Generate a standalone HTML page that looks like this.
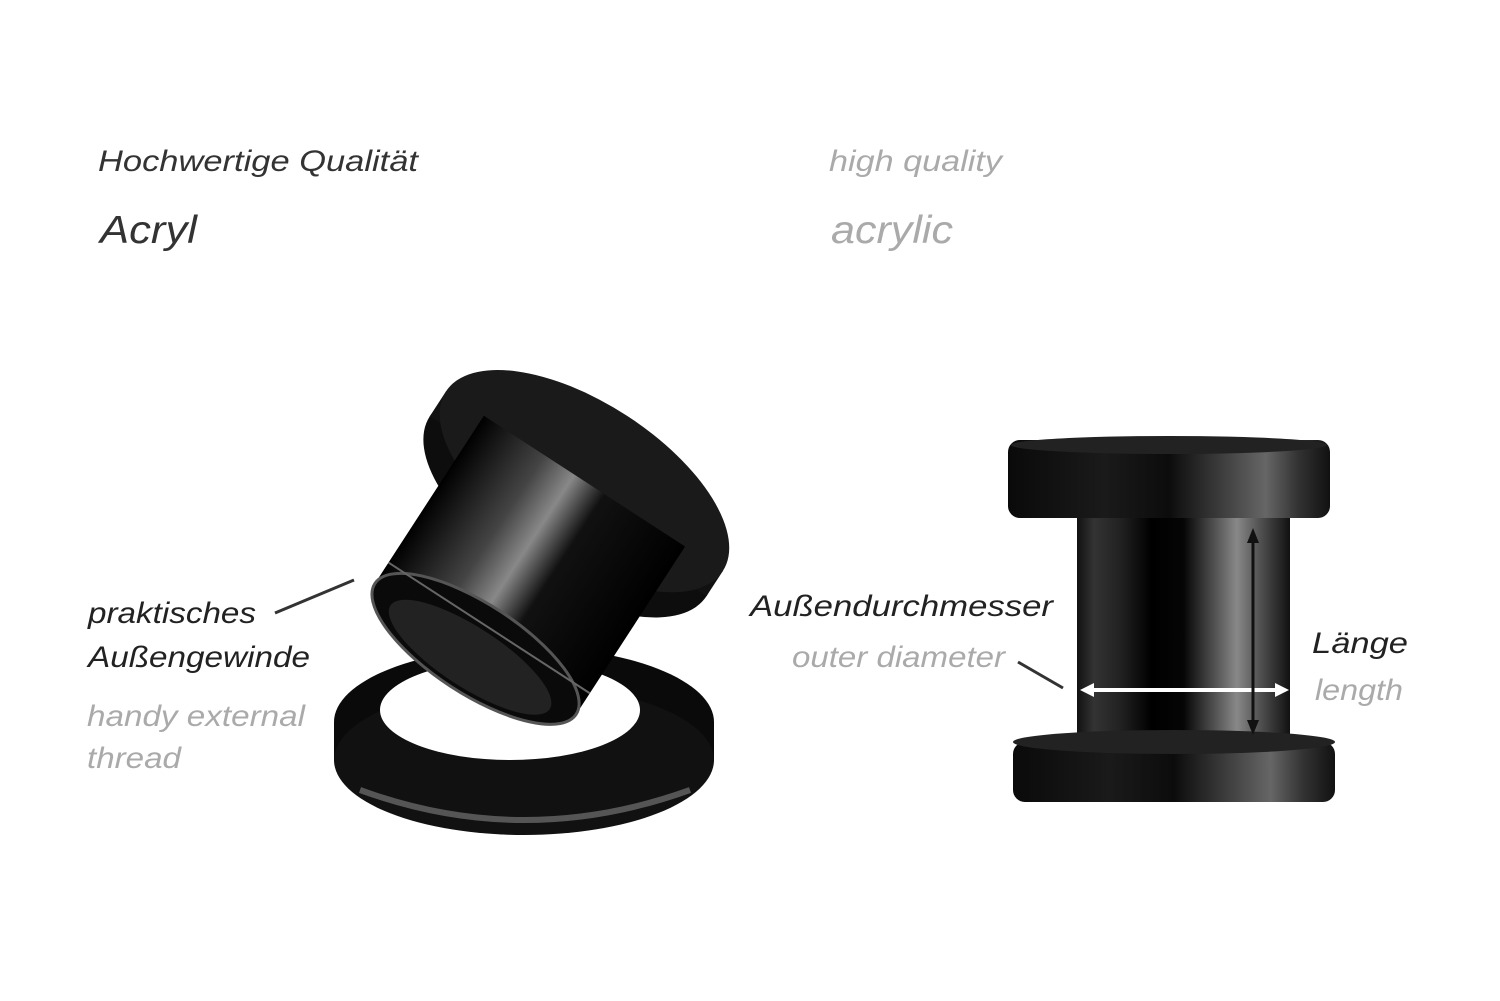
<!DOCTYPE html>
<html><head><meta charset="utf-8"><style>
html,body{margin:0;padding:0;background:#fff;}
svg{display:block}
text{font-family:"Liberation Sans",sans-serif;font-style:italic;}
</style></head><body>
<svg width="1500" height="1001" viewBox="0 0 1500 1001" xmlns="http://www.w3.org/2000/svg">
<defs>
<linearGradient id="cyl" x1="0" x2="1" y1="0" y2="0">
<stop offset="0" stop-color="#111"/><stop offset="0.08" stop-color="#333"/><stop offset="0.2" stop-color="#222"/><stop offset="0.35" stop-color="#000"/><stop offset="0.5" stop-color="#050505"/><stop offset="0.75" stop-color="#888"/><stop offset="0.85" stop-color="#555"/><stop offset="1" stop-color="#111"/>
</linearGradient>
<linearGradient id="fl" x1="0" x2="1" y1="0" y2="0">
<stop offset="0" stop-color="#0a0a0a"/><stop offset="0.3" stop-color="#1a1a1a"/><stop offset="0.5" stop-color="#0c0c0c"/><stop offset="0.8" stop-color="#666"/><stop offset="0.9" stop-color="#333"/><stop offset="1" stop-color="#111"/>
</linearGradient>
<linearGradient id="tube" x1="0" x2="1" y1="0" y2="0">
<stop offset="0" stop-color="#000"/><stop offset="0.3" stop-color="#444"/><stop offset="0.45" stop-color="#888"/><stop offset="0.6" stop-color="#111"/><stop offset="1" stop-color="#000"/>
</linearGradient>
</defs>

<text x="98" y="171" font-size="30" fill="#333" textLength="320" lengthAdjust="spacingAndGlyphs">Hochwertige Qualität</text>
<text x="100" y="243" font-size="39" fill="#333" textLength="97" lengthAdjust="spacingAndGlyphs">Acryl</text>
<text x="829" y="171" font-size="30" fill="#aaa" textLength="173" lengthAdjust="spacingAndGlyphs">high quality</text>
<text x="831" y="243" font-size="39" fill="#aaa" textLength="122" lengthAdjust="spacingAndGlyphs">acrylic</text>

<!-- left object -->
<g>
<ellipse cx="524" cy="722" rx="190" ry="75" fill="#0a0a0a"/>
<rect x="334" y="722" width="380" height="38" fill="#0a0a0a"/>
<ellipse cx="524" cy="760" rx="190" ry="75" fill="#111"/>
<path d="M360 790 Q524 850 690 790" stroke="#555" stroke-width="6" fill="none"/>
<ellipse cx="510" cy="710" rx="130" ry="50" fill="#fff"/>
<g transform="translate(530 565) rotate(33) translate(-560 -520)">
<ellipse cx="560" cy="450" rx="165" ry="78" fill="#0d0d0d"/>
<rect x="395" y="420" width="330" height="30" fill="#111"/>
<ellipse cx="560" cy="420" rx="165" ry="78" fill="#1a1a1a"/>
<rect x="440" y="420" width="240" height="200" fill="url(#tube)"/>
<ellipse cx="560" cy="620" rx="120" ry="45" fill="#0a0a0a" stroke="#555" stroke-width="3"/>
<line x1="440" y1="595" x2="680" y2="595" stroke="#666" stroke-width="2"/>
<ellipse cx="560" cy="630" rx="95" ry="30" fill="#222"/>
</g>
</g>
<line x1="275" y1="613" x2="354" y2="580" stroke="#333" stroke-width="3"/>
<text x="88" y="623" font-size="30" fill="#222" textLength="168" lengthAdjust="spacingAndGlyphs">praktisches</text>
<text x="88" y="667" font-size="30" fill="#222" textLength="222" lengthAdjust="spacingAndGlyphs">Außengewinde</text>
<text x="87" y="726" font-size="30" fill="#aaa" textLength="218" lengthAdjust="spacingAndGlyphs">handy external</text>
<text x="87" y="768" font-size="30" fill="#aaa" textLength="94" lengthAdjust="spacingAndGlyphs">thread</text>

<!-- right object -->
<rect x="1077" y="505" width="213" height="240" fill="url(#cyl)"/>
<rect x="1013" y="742" width="322" height="60" rx="12" fill="url(#fl)"/>
<ellipse cx="1174" cy="742" rx="161" ry="12" fill="#222"/>
<rect x="1008" y="440" width="322" height="78" rx="12" fill="url(#fl)"/>
<ellipse cx="1169" cy="445" rx="158" ry="9" fill="#222"/>
<line x1="1090" y1="690" x2="1278" y2="690" stroke="#fff" stroke-width="4"/>
<path d="M1080 690 L1094 683 L1094 697 Z" fill="#fff"/>
<path d="M1289 690 L1275 683 L1275 697 Z" fill="#fff"/>
<line x1="1253" y1="540" x2="1253" y2="723" stroke="#111" stroke-width="3"/>
<path d="M1253 528 L1247 543 L1259 543 Z" fill="#111"/>
<path d="M1253 735 L1247 720 L1259 720 Z" fill="#111"/>
<line x1="1018" y1="662" x2="1063" y2="688" stroke="#333" stroke-width="3"/>
<text x="750" y="616" font-size="30" fill="#222" textLength="303" lengthAdjust="spacingAndGlyphs">Außendurchmesser</text>
<text x="792" y="667" font-size="30" fill="#aaa" textLength="213" lengthAdjust="spacingAndGlyphs">outer diameter</text>
<text x="1312" y="653" font-size="30" fill="#222" textLength="96" lengthAdjust="spacingAndGlyphs">Länge</text>
<text x="1315" y="700" font-size="30" fill="#aaa" textLength="88" lengthAdjust="spacingAndGlyphs">length</text>
</svg>
</body></html>
